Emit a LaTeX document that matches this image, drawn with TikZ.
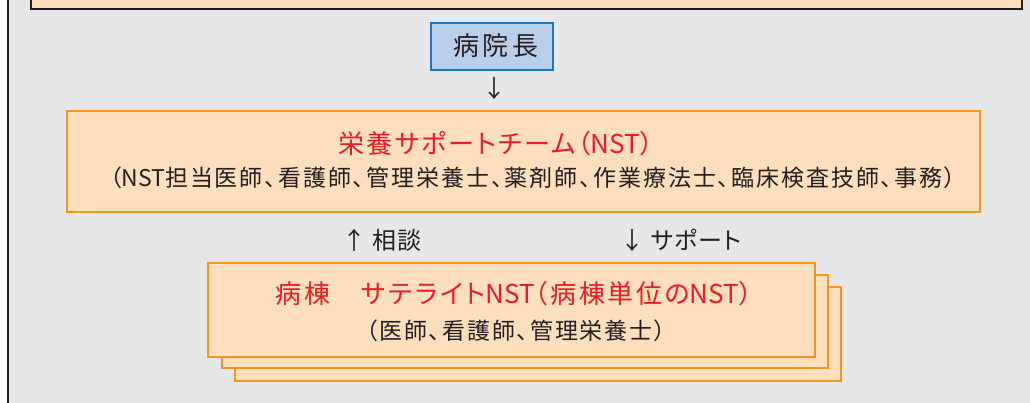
\documentclass[tikz,border=0pt]{standalone}
\usepackage{fontspec}
\setmainfont{Noto Sans CJK JP}
\newfontfamily\jp[RawFeature=+palt]{Noto Sans CJK JP}
\newfontfamily\jpmem[RawFeature=+palt,LetterSpace=8.5]{Noto Sans CJK JP}
\newfontfamily\jpeight[RawFeature=+palt,LetterSpace=8]{Noto Sans CJK JP}
\newfontfamily\jpten[RawFeature=+palt,LetterSpace=10]{Noto Sans CJK JP}
\newfontfamily\jphead[LetterSpace=12]{Noto Sans CJK JP}
\newfontfamily\jplab[RawFeature=+palt,LetterSpace=4]{Noto Sans CJK JP}
\newcommand{\nst}{{\jp NST}}
\definecolor{bg}{HTML}{E6E7E9}
\definecolor{peach}{HTML}{FDDFBE}
\definecolor{orangeb}{HTML}{F7941D}
\definecolor{bluefill}{HTML}{B9CEEA}
\definecolor{blueb}{HTML}{1C75BC}
\definecolor{redt}{HTML}{ED1C24}
\definecolor{darkt}{HTML}{231F20}
\tikzset{
  orangebox/.style={draw=orangeb, fill=peach, line width=2.4pt, inner sep=0pt},
  topbox/.style={draw=darkt, fill=peach, line width=2pt, inner sep=0pt},
  headbox/.style={draw=blueb, fill=bluefill, line width=2.8pt, inner sep=0pt},
  redtext/.style={text=redt, inner sep=0pt},
  blacktext/.style={text=darkt, inner sep=0pt},
  labeltext/.style={text=darkt, inner sep=0pt, font=\jplab\fontsize{24}{28}\selectfont},
}
\begin{document}
\begin{tikzpicture}[x=1pt,y=-1pt]
\useasboundingbox (0,0) rectangle (1030,403);
\fill[white] (0,0) rectangle (1030,403);
\fill[bg] (8,0) rectangle (1030,403);
\draw[darkt, line width=2.2pt] (8,-5) -- (8,410);
% top (cut) box
\node[topbox, minimum width=991, minimum height=60] (top) at (526.5,-21) {};
% hospital director
\node[headbox, minimum width=122, minimum height=47] (director) at (492,46.5) {};
\node[labeltext, font=\jphead\fontsize{26}{30}\selectfont] (directorlabel) at (496,46) {病院長};
\node[labeltext, font=\jp\fontsize{24}{28}\selectfont] (arrowdown) at (494,88) {↓};
% NST box
\node[orangebox, minimum width=913, minimum height=101] (nst) at (523.5,161.5) {};
\node[redtext, font=\jpeight\fontsize{26}{30}\selectfont] (nsttitle) at (496,144) {栄養サポートチーム（\nst）};
\node[blacktext, font=\jpmem\fontsize{23}{27}\selectfont] (nstmembers) at (533,178) {（\nst 担当医師、看護師、管理栄養士、薬剤師、作業療法士、臨床検査技師、事務）};
% labels between
\node[labeltext] (consult) at (382,240) {↑ 相談};
\node[labeltext] (support) at (681,240) {↓ サポート};
% stacked ward boxes
\node[orangebox, minimum width=606, minimum height=94] (ward3) at (538,334) {};
\node[orangebox, minimum width=606, minimum height=93] (ward2) at (525,321.5) {};
\node[orangebox, minimum width=607, minimum height=94] (ward) at (511.5,310) {};
\node[redtext, font=\jpten\fontsize{26}{30}\selectfont] (wardtitle) at (514,294) {病棟　サテライト\nst（病棟単位の\nst）};
\node[blacktext, font=\jpeight\fontsize{23}{27}\selectfont] (wardmembers) at (516,331) {（医師、看護師、管理栄養士）};
\end{tikzpicture}
\end{document}
